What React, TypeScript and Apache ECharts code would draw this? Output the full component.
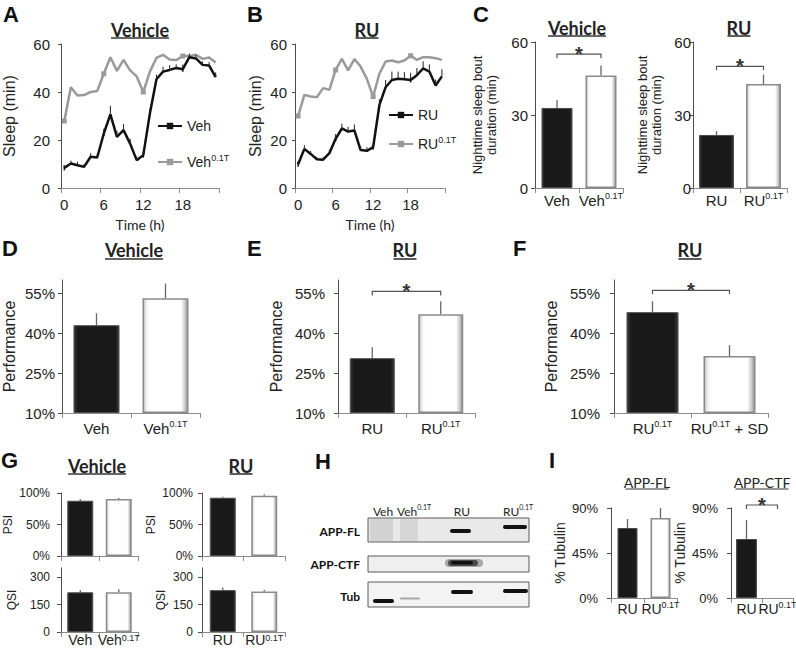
import React, { useEffect, useRef } from 'react';
import * as echarts from 'echarts';

const AR = "'Liberation Sans', Arial, Helvetica, sans-serif";
const LATO = "Lato, 'Open Sans', sans-serif";
const TXT = '#222222';

// ---------------- DATA ----------------
const hours = ['0','1','2','3','4','5','6','7','8','9','10','11','12','13','14','15','16','17','18','19','20','21','22','23'];
const vehSleep = [8.4, 10.2, 9.5, 8.8, 13, 12.7, 22.7, 30.7, 21.3, 24.1, 18.5, 11.6, 13.7, 31, 45.3, 48.5, 49.2, 50, 49.5, 54.5, 54, 51.3, 51, 46.2];
const vehSleepErr = [0.8, 1.2, 1.5, 1.2, 1.5, 1.5, 2, 3.5, 2.5, 2.5, 2, 1.5, 1.5, 2, 2, 2, 2, 1.5, 2, 1.5, 1.5, 1.5, 1.5, 2];
const veh01TSleep = [27.9, 42, 38.5, 38.7, 40, 40.4, 47.6, 54.5, 48.8, 53.4, 49, 46.5, 40, 48.5, 54.2, 55.5, 53.5, 53.3, 55, 55, 55.5, 53.8, 54.4, 52.3];
const ruSleep = [9.9, 16.3, 14.2, 12, 11.8, 14.5, 20.5, 24.8, 23.5, 24, 15.8, 15.5, 17, 34.5, 42, 45, 45.5, 45.3, 45, 47, 49.8, 48.5, 42.7, 46.5];
const ruSleepErr = [1, 1.5, 1.2, 1, 1, 1.5, 2, 2, 2, 2.5, 1.5, 1.5, 1.5, 2.5, 3, 3.5, 3, 3, 3, 3, 3, 3, 2.5, 3];
const ru01TSleep = [30, 38.8, 38.1, 37.8, 41.6, 40.9, 49.2, 53.8, 49, 53.7, 50.6, 45.5, 38.1, 47.6, 52.7, 53.1, 52.4, 53.1, 55.1, 53.4, 54.5, 54.5, 54.1, 53.4];

const vehCats = ['Veh', 'Veh0.1T'];
const ruCats = ['RU', 'RU0.1T'];
const sdCats = ['RU0.1T', 'RU0.1T + SD'];

const boutVeh = [32.9, 46.2];
const boutVehErr = [3.3, 4.1];
const boutRU = [21.8, 42.7];
const boutRUErr = [1.6, 3.9];
const perfVeh = [43.0, 53.1];
const perfVehErr = [4.5, 5.6];
const perfRU = [30.6, 47.1];
const perfRUErr = [4.1, 4.9];
const perfSD = [47.9, 31.4];
const perfSDErr = [4.1, 4.1];
const psiVeh = [87.7, 90.4];
const psiVehErr = [2.7, 1.6];
const psiRU = [92.5, 95.7];
const psiRUErr = [1.6, 2.2];
const qsiVeh = [217, 217];
const qsiVehErr = [13, 17];
const qsiRU = [229, 221];
const qsiRUErr = [15, 10];
const appFL = [70, 80];
const appFLErr = [9, 10];
const appCTF = [59, 0];
const appCTFErr = [19, 0];

// significance bracket levels (in data units)
const sigBoutVeh = 55;
const sigBoutRU = 50;
const sigPerfRU = 55.7;
const sigPerfSD = 56.1;
const sigCTF = 93;

// ---------------- HELPERS ----------------
function sup(s: string) {
  const i = s.indexOf('0.1T');
  if (i < 0) return `{b|${s}}`;
  const pre = s.slice(0, i);
  const post = s.slice(i + 4);
  return `{b|${pre}}{s|0.1T}` + (post ? `{b|${post}}` : '');
}
function richFor(size: number, family = AR, color = TXT, lhExtra = 4) {
  const ss = Math.round(size * 0.62);
  return {
    b: { fontSize: size, fontFamily: family, color, fill: color, lineHeight: size + lhExtra },
    s: { fontSize: ss, fontFamily: family, color, fill: color, lineHeight: ss + 2, verticalAlign: 'top' },
  };
}

const BLACK = {
  color: new echarts.graphic.LinearGradient(0, 0, 1, 0, [
    { offset: 0, color: '#3c3c3c' }, { offset: 0.08, color: '#191919' },
    { offset: 0.92, color: '#191919' }, { offset: 1, color: '#3c3c3c' },
  ]),
  borderColor: '#4a4a4a', borderWidth: 1,
};
const WHITE = {
  color: new echarts.graphic.LinearGradient(0, 0, 1, 0, [
    { offset: 0, color: '#b8b8b8' }, { offset: 0.07, color: '#f2f2f2' }, { offset: 0.15, color: '#ffffff' },
    { offset: 0.85, color: '#ffffff' }, { offset: 0.93, color: '#cfcfcf' }, { offset: 1, color: '#8f8f8f' },
  ]),
  borderColor: '#8a8a8a', borderWidth: 1.5,
};

const errRender = (color: string, lw: number) => (params: any, api: any) => {
  const x = api.value(0), v = api.value(1), e = api.value(2);
  const p0 = api.coord([x, v]);
  const p1 = api.coord([x, v + e]);
  return { type: 'line', shape: { x1: p0[0], y1: p0[1], x2: p1[0], y2: p1[1] }, style: { stroke: color, lineWidth: lw } };
};
const sigRender = (params: any, api: any) => {
  const lv = api.value(1);
  const a = api.coord([0, lv]);
  const b = api.coord([1, lv]);
  const y = a[1];
  return {
    type: 'group',
    children: [
      { type: 'polyline', shape: { points: [[a[0], y + 4], [a[0], y], [b[0], y], [b[0], y + 4]] }, style: { stroke: '#555', lineWidth: 1.2, fill: 'none' } },
      { type: 'text', style: { text: '*', x: (a[0] + b[0]) / 2, y: y, align: 'center', verticalAlign: 'middle', textAlign: 'center', textVerticalAlign: 'middle', fontSize: 20, fontWeight: 'bold', fontFamily: AR, fill: '#333' } },
    ],
  };
};

function buildOption() {
  const grids: any[] = [];
  const xAxes: any[] = [];
  const yAxes: any[] = [];
  const series: any[] = [];
  const axisLineY = { show: true, lineStyle: { color: '#4d4d4d', width: 1 } };
  const axisLineX = { show: true, lineStyle: { color: '#8c8c8c', width: 1 } };

  const addGrid = (l: number, t: number, w: number, h: number) => {
    grids.push({ left: l, top: t, width: w, height: h, containLabel: false, outerBoundsMode: 'none' });
    return grids.length - 1;
  };

  function linePanel(l: number, t: number, w: number, h: number, n1: string, s1: number[], e1: number[], n2: string, s2: number[], nameGap: number, labMargin: number) {
    const g = addGrid(l, t, w, h);
    xAxes.push({
      type: 'category', gridIndex: g, data: hours, boundaryGap: true,
      axisLine: axisLineX,
      axisTick: { show: true, interval: 5, length: 5, lineStyle: { color: '#8c8c8c' } },
      axisLabel: { interval: 5, fontSize: 15, fontFamily: AR, color: TXT, margin: 9 },
      name: 'Time (h)', nameLocation: 'middle', nameGap: 29,
      nameTextStyle: { fontFamily: LATO, fontSize: 14, color: TXT },
    });
    yAxes.push({
      type: 'value', gridIndex: g, min: 0, max: 60, interval: 20,
      axisLine: axisLineY, axisTick: { show: true, length: 3, lineStyle: { color: '#4d4d4d' } },
      splitLine: { show: false },
      axisLabel: { fontSize: 15, fontFamily: AR, color: TXT, margin: labMargin },
      name: 'Sleep (min)', nameLocation: 'middle', nameGap,
      nameTextStyle: { fontFamily: AR, fontSize: 16, color: TXT },
    });
    series.push({
      name: n2, type: 'line', xAxisIndex: g, yAxisIndex: g, data: s2,
      symbol: 'rect', symbolSize: 5, lineStyle: { color: '#9a9a9a', width: 2.5 }, itemStyle: { color: '#9a9a9a' }, z: 2,
    });
    series.push({
      name: n1, type: 'line', xAxisIndex: g, yAxisIndex: g, data: s1,
      symbol: 'rect', symbolSize: [1.5, 5], lineStyle: { color: '#111', width: 2.5 }, itemStyle: { color: '#111' }, z: 3,
    });
    series.push({
      name: 'err' + n1, type: 'custom', xAxisIndex: g, yAxisIndex: g,
      data: s1.map((v, i) => [i, v, e1[i]]), encode: { x: 0, y: 1 },
      renderItem: errRender('#222', 1), z: 4, silent: true,
    });
  }

  function barPanel(p: any) {
    const g = addGrid(p.l, p.t, p.w, p.h);
    const base = p.base ?? 0;
    xAxes.push({
      type: 'category', gridIndex: g, data: p.cats,
      axisLine: axisLineX,
      axisTick: { show: true, length: 5, lineStyle: { color: '#8c8c8c' } },
      axisLabel: { show: p.showCats !== false, interval: 0, hideOverlap: false, margin: p.catMargin, formatter: (v: string) => sup(v), rich: richFor(p.catSize, AR, TXT, p.catLH ?? 4) },
    });
    yAxes.push({
      type: 'value', gridIndex: g, min: 0, max: p.max - base, interval: p.interval,
      axisLine: axisLineY, axisTick: { show: true, length: 4, lineStyle: { color: '#4d4d4d' } },
      splitLine: { show: false },
      axisLabel: {
        fontSize: p.tickSize, fontFamily: AR, color: TXT, margin: p.labMargin,
        showMaxLabel: p.showMaxLabel !== false,
        formatter: (v: number) => `${Math.round(v + base)}${p.pct ? '%' : ''}`,
      },
      name: p.yName, nameLocation: 'middle', nameGap: p.nameGap,
      nameTextStyle: { fontFamily: AR, fontSize: p.nameSize, color: TXT, lineHeight: p.nameLH ?? p.nameSize + 2 },
    });
    series.push({
      type: 'bar', name: 'bar' + g, xAxisIndex: g, yAxisIndex: g, barWidth: p.barWidth,
      data: p.vals.map((v: number, i: number) => ({
        value: v - base,
        itemStyle: i === 0 ? BLACK : (v === 0 ? { ...WHITE, borderWidth: 0 } : WHITE),
      })),
      z: 2,
    });
    series.push({
      type: 'custom', name: 'err' + g, xAxisIndex: g, yAxisIndex: g,
      data: p.vals.map((v: number, i: number) => [i, v - base, p.errs[i]]).filter((d: number[]) => d[2] > 0),
      encode: { x: 0, y: 1 }, renderItem: errRender('#666', 1.3), z: 1, silent: true,
    });
    if (p.sig != null) {
      series.push({
        type: 'custom', name: 'sig' + g, xAxisIndex: g, yAxisIndex: g,
        data: [[0, p.sig - base]], encode: { x: 0, y: 1 }, renderItem: sigRender, z: 3, silent: true,
      });
    }
  }

  // A, B
  linePanel(61, 44, 158, 144, 'Veh', vehSleep, vehSleepErr, 'Veh0.1T', veh01TSleep, 44, 11);
  linePanel(295, 44, 150, 144, 'RU', ruSleep, ruSleepErr, 'RU0.1T', ru01TSleep, 32, 8);

  const cName = 'Nighttime sleep bout\nduration (min)';
  // C
  barPanel({ l: 535, t: 42, w: 88, h: 146, cats: vehCats, vals: boutVeh, errs: boutVehErr, max: 60, interval: 30, barWidth: 31, tickSize: 15, catSize: 15, catMargin: 3, labMargin: 7, yName: cName, nameGap: 36, nameSize: 13, nameLH: 14.5, sig: sigBoutVeh });
  barPanel({ l: 693, t: 42, w: 94, h: 146, cats: ruCats, vals: boutRU, errs: boutRUErr, max: 60, interval: 30, barWidth: 35, tickSize: 15, catSize: 15, catMargin: 3, labMargin: 2, yName: cName, nameGap: 29, nameSize: 13, nameLH: 14.5, sig: sigBoutRU });
  // D, E, F
  barPanel({ l: 62, t: 280, w: 138, h: 133, cats: vehCats, vals: perfVeh, errs: perfVehErr, base: 10, max: 60, interval: 15, showMaxLabel: false, pct: true, barWidth: 46, tickSize: 15, catSize: 15, catMargin: 6, labMargin: 7, yName: 'Performance', nameGap: 44, nameSize: 16 });
  barPanel({ l: 338, t: 280, w: 137, h: 133, cats: ruCats, vals: perfRU, errs: perfRUErr, base: 10, max: 60, interval: 15, showMaxLabel: false, pct: true, barWidth: 45, tickSize: 15, catSize: 15, catMargin: 6, labMargin: 13, yName: 'Performance', nameGap: 53, nameSize: 16, sig: sigPerfRU });
  barPanel({ l: 614, t: 280, w: 154, h: 133, cats: sdCats, vals: perfSD, errs: perfSDErr, base: 10, max: 60, interval: 15, showMaxLabel: false, pct: true, barWidth: 52, tickSize: 15, catSize: 15, catMargin: 6, labMargin: 14, yName: 'Performance', nameGap: 54, nameSize: 16, sig: sigPerfSD });
  // G
  barPanel({ l: 61, t: 493, w: 77, h: 63, cats: vehCats, vals: psiVeh, errs: psiVehErr, max: 100, interval: 50, pct: true, barWidth: 26, tickSize: 12, catSize: 14, catMargin: 2, labMargin: 11, showCats: false, yName: 'PSI', nameGap: 42, nameSize: 12 });
  barPanel({ l: 61, t: 568, w: 77, h: 64, cats: vehCats, vals: qsiVeh, errs: qsiVehErr, max: 350, interval: 150, showMaxLabel: false, barWidth: 26, tickSize: 12, catSize: 14, catMargin: 1, catLH: 0, labMargin: 11, yName: 'QSI', nameGap: 42, nameSize: 12 });
  barPanel({ l: 202, t: 493, w: 83, h: 63, cats: ruCats, vals: psiRU, errs: psiRUErr, max: 100, interval: 50, pct: true, barWidth: 26, tickSize: 12, catSize: 14, catMargin: 2, labMargin: 9, showCats: false, yName: 'PSI', nameGap: 34, nameSize: 12 });
  barPanel({ l: 202, t: 568, w: 83, h: 64, cats: ruCats, vals: qsiRU, errs: qsiRUErr, max: 350, interval: 150, showMaxLabel: false, barWidth: 26, tickSize: 12, catSize: 14, catMargin: 1, catLH: 0, labMargin: 9, yName: 'QSI', nameGap: 34, nameSize: 12 });
  // I
  barPanel({ l: 611, t: 508, w: 66, h: 90, cats: ruCats, vals: appFL, errs: appFLErr, max: 90, interval: 45, pct: true, barWidth: 20, tickSize: 13, catSize: 14, catMargin: 2, labMargin: 13, yName: '% Tubulin', nameGap: 42, nameSize: 14 });
  barPanel({ l: 731, t: 508, w: 62, h: 90, cats: ruCats, vals: appCTF, errs: appCTFErr, max: 90, interval: 45, pct: true, barWidth: 21, tickSize: 13, catSize: 14, catMargin: 2, labMargin: 13, yName: '% Tubulin', nameGap: 41, nameSize: 14, sig: sigCTF });

  // legends
  const legendCommon = {
    orient: 'horizontal', itemWidth: 24, itemHeight: 8, itemGap: 0, padding: 0, selectedMode: false,
    textStyle: { color: TXT, fontFamily: AR, fontSize: 14, rich: richFor(14) },
    formatter: (n: string) => sup(n),
  };
  const legend = [
    { ...legendCommon, data: ['Veh'], left: 157, top: 119 },
    { ...legendCommon, data: ['Veh0.1T'], left: 157, top: 153 },
    { ...legendCommon, data: ['RU'], left: 388, top: 108 },
    { ...legendCommon, data: ['RU0.1T'], left: 388, top: 135 },
  ];

  // graphics
  const graphic: any[] = [];
  const letter = (t: string, x: number, y: number) => graphic.push({
    type: 'text', x, y,
    style: { text: t, fontSize: 22, fontWeight: 'bold', fontFamily: AR, fill: '#111', align: 'left', verticalAlign: 'middle', textAlign: 'left', textVerticalAlign: 'middle' },
  });
  const title = (t: string, cx: number, cy: number, ulY: number, ulW: number, size = 18, bold = true) => {
    graphic.push({
      type: 'text', x: cx, y: cy,
      style: { text: t, fontSize: size, fontWeight: bold ? 'bold' : 'normal', fontFamily: LATO, fill: '#222', align: 'center', verticalAlign: 'middle', textAlign: 'center', textVerticalAlign: 'middle' },
    });
    graphic.push({ type: 'line', shape: { x1: cx - ulW / 2, y1: ulY, x2: cx + ulW / 2, y2: ulY }, style: { stroke: '#333', lineWidth: bold ? 1.6 : 1.1 } });
  };
  letter('A', 3, 14); letter('B', 247, 14); letter('C', 473, 14);
  letter('D', 2, 248); letter('E', 247, 248); letter('F', 513, 248);
  letter('G', 1, 460); letter('H', 315, 461); letter('I', 549, 460);

  title('Vehicle', 140, 30, 38, 58);
  title('RU', 367, 30, 38, 23);
  title('Vehicle', 577, 28, 36, 58);
  title('RU', 739, 28, 36, 23);
  title('Vehicle', 134, 250, 259, 58);
  title('RU', 405, 250, 259, 23);
  title('RU', 690, 250, 259, 23);
  title('Vehicle', 97, 466, 474, 58);
  title('RU', 241, 466, 474, 23);
  title('APP-FL', 647, 482, 489, 43, 14, false);
  title('APP-CTF', 762, 482, 489, 53, 14, false);

  // western blot (H)
  const r = (x: number, y: number, w: number, h: number, style: any, rr = 0) =>
    graphic.push({ type: 'rect', shape: { x, y, width: w, height: h, r: rr }, style });
  r(368, 518, 161, 24, { fill: '#e9e9e9', stroke: '#5a5a5a', lineWidth: 1 });
  r(370, 519, 23, 22, { fill: '#d3d3d3' });
  r(400, 519, 18, 22, { fill: '#d6d6d6' });
  r(450, 529, 21, 4, { fill: '#111' }, 2);
  r(503, 525, 24, 4, { fill: '#111' }, 2);
  r(368, 556, 161, 16, { fill: '#efefef', stroke: '#5a5a5a', lineWidth: 1 });
  r(445, 559, 38, 8, { fill: '#a8a8a8' }, 4);
  r(448, 560, 30, 6, { fill: '#4a4a4a' }, 3);
  r(451, 561, 22, 3.5, { fill: '#111' }, 2);
  r(368, 582, 161, 25, { fill: '#f3f3f3', stroke: '#5a5a5a', lineWidth: 1 });
  r(373, 599, 21, 4, { fill: '#111' }, 2);
  r(400, 597.5, 20, 2, { fill: '#a8a8a8' }, 1);
  r(451, 590, 22, 4, { fill: '#111' }, 2);
  r(503, 589, 25, 4, { fill: '#111' }, 2);
  const rowLab = (t: string, y: number) => graphic.push({
    type: 'text', x: 360, y,
    style: { text: t, fontSize: 12, fontWeight: 'bold', fontFamily: LATO, fill: '#111', align: 'right', verticalAlign: 'middle', textAlign: 'right', textVerticalAlign: 'middle' },
  });
  rowLab('APP-FL', 531); rowLab('APP-CTF', 564); rowLab('Tub', 596);
  const laneLab = (t: string, x: number) => graphic.push({
    type: 'text', x, y: 511,
    style: { text: sup(t), rich: richFor(12, LATO), align: 'center', verticalAlign: 'middle', textAlign: 'center', textVerticalAlign: 'middle' },
  });
  laneLab('Veh', 383); laneLab('Veh0.1T', 414); laneLab('RU', 462); laneLab('RU0.1T', 518);

  return {
    animation: false,
    backgroundColor: '#ffffff',
    grid: grids, xAxis: xAxes, yAxis: yAxes, series, legend, graphic,
  };
}

export default function App() {
  const ref = useRef<HTMLDivElement>(null);
  useEffect(() => {
    if (!ref.current) return;
    const chart = echarts.init(ref.current, null, { renderer: 'svg' });
    chart.setOption(buildOption() as any);
    return () => chart.dispose();
  }, []);
  return <div ref={ref} style={{ position: 'absolute', left: 0, top: 0, width: 796, height: 648 }} />;
}
